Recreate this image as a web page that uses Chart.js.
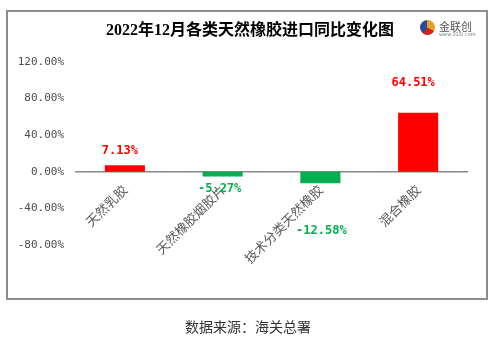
<!DOCTYPE html>
<html lang="zh">
<head>
<meta charset="UTF-8">
<title>2022年12月各类天然橡胶进口同比变化图</title>
<script src="https://cdn.jsdelivr.net/npm/chart.js"></script>
<style>
    html, body { margin: 0; padding: 0; background: #fff; }
    .page { position: relative; width: 496px; height: 341px; overflow: hidden; }
    .frame {
        position: absolute; left: 6px; top: 10px; width: 478px; height: 286px;
        border: 2px solid #8c8c8c;
    }
    #chart { position: absolute; left: 0; top: 0; }
    .title {
        position: absolute; left: 0; width: 500px; top: 16px; text-align: center;
        font: bold 16px "Liberation Serif", "Noto Sans CJK SC", serif; color: #000;
    }
    .logo { position: absolute; left: 420px; top: 17px; width: 62px; height: 22px; }
    .logo .mark {
        position: absolute; left: 0; top: 3px; width: 15px; height: 15px; border-radius: 50%;
        background: conic-gradient(#e8a020 0 120deg, #d02020 120deg 220deg, #2a4aa0 220deg 360deg);
    }
    .logo .name { position: absolute; left: 19px; top: 1px; font: 11px "Noto Sans CJK SC", sans-serif; color: #555; }
    .logo .url { position: absolute; left: 19px; top: 14px; font: 5px "DejaVu Sans", sans-serif; color: #777; }
    .source {
        position: absolute; left: 0; width: 496px; top: 316px; text-align: center;
        font: 14px "Noto Sans CJK SC", sans-serif; color: #333;
    }
</style>
</head>
<body>
<div class="page">
    <div class="frame"></div>
    <canvas id="chart" width="496" height="341"></canvas>
    <div class="title">2022年12月各类天然橡胶进口同比变化图</div>
    <div class="logo"><span class="mark"></span><span class="name">金联创</span><span class="url">www.315i.com</span></div>
    <div class="source">数据来源：海关总署</div>
</div>
<script>
    // 各类天然橡胶进口同比 (%)
    const categories = ['天然乳胶', '天然橡胶烟胶片', '技术分类天然橡胶', '混合橡胶'];
    const yoyValues = [7.13, -5.27, -12.58, 64.51];
    const yTicks = [-80, -40, 0, 40, 80, 120];

    const RED = '#ff0000';
    const GREEN = '#00b050';
    const barColors = yoyValues.map(v => v >= 0 ? RED : GREEN);

    // 数值标签离柱端的距离和水平偏移 (px)
    const labelGap = [14, 12, 48, 30];
    const labelShift = [-5, -3, 1, -5];

    const valueLabels = {
        id: 'valueLabels',
        afterDatasetsDraw(chart) {
            const ctx = chart.ctx;
            const meta = chart.getDatasetMeta(0);
            ctx.save();
            ctx.font = 'bold 12px "DejaVu Sans Mono", "Liberation Mono", monospace';
            ctx.textAlign = 'center';
            ctx.textBaseline = 'middle';
            meta.data.forEach((bar, i) => {
                const v = yoyValues[i];
                const y = v >= 0 ? bar.y - labelGap[i] : bar.y + labelGap[i];
                ctx.fillStyle = barColors[i];
                ctx.fillText(v.toFixed(2) + '%', bar.x + labelShift[i], y);
            });
            ctx.restore();
        }
    };

    new Chart(document.getElementById('chart'), {
        type: 'bar',
        data: {
            labels: categories,
            datasets: [{
                data: yoyValues,
                backgroundColor: barColors,
                borderWidth: 0,
                barPercentage: 0.41,
                categoryPercentage: 1
            }]
        },
        options: {
            responsive: false,
            animation: false,
            layout: { padding: { left: 0, right: 29, top: 62, bottom: 96 } },
            plugins: {
                legend: { display: false },
                tooltip: { enabled: false }
            },
            scales: {
                x: {
                    position: { y: 0 },
                    grid: { display: false, drawTicks: false },
                    border: { display: true, color: '#888', width: 1.5 },
                    ticks: {
                        minRotation: 45,
                        maxRotation: 45,
                        padding: 10,
                        color: '#595959',
                        font: { family: '"Noto Sans CJK SC", sans-serif', size: 13 }
                    }
                },
                y: {
                    min: -80,
                    max: 120,
                    afterFit(scale) { scale.width = 76; },
                    afterBuildTicks(scale) { scale.ticks = yTicks.map(v => ({ value: v })); },
                    grid: { display: false, drawTicks: false },
                    border: { display: false },
                    ticks: {
                        padding: 12,
                        color: '#4d4d4d',
                        font: { family: '"DejaVu Sans Mono", "Liberation Mono", monospace', size: 11 },
                        callback: v => v.toFixed(2) + '%'
                    }
                }
            }
        },
        plugins: [valueLabels]
    });
</script>
</body>
</html>
